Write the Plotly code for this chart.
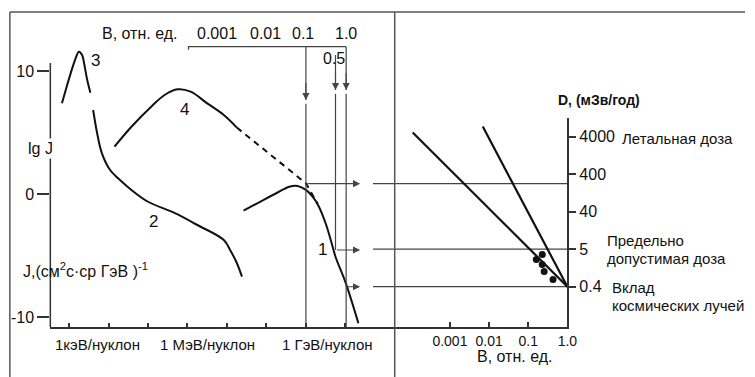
import plotly.graph_objects as go

W, H = 755, 377
FONT = "Liberation Sans, Arial, sans-serif"
INK = "#111111"
GREY = "#444444"

# ---------------- Left panel: lg E (eV/nucleon) vs lg J ----------------
c3_lgE = [2.82, 2.93, 3.04, 3.15, 3.25, 3.33, 3.38, 3.46, 3.54]
c3_lgJ = [7.37, 8.62, 9.81, 10.89, 11.57, 11.30, 10.63, 9.27, 8.24]

c2_lgE = [3.61, 3.71, 3.83, 4.04, 4.29, 4.58, 5.0, 5.67, 6.25, 6.92, 7.08, 7.25, 7.38]
c2_lgJ = [6.83, 4.96, 3.33, 1.95, 1.14, 0.33, -0.63, -1.54, -2.52, -3.74, -4.55, -5.61, -6.72]

c4_lgE = [4.15, 4.58, 5.08, 5.42, 5.75, 6.08, 6.5, 6.92, 7.25]
c4_lgJ = [3.85, 5.47, 7.10, 8.05, 8.51, 8.32, 7.37, 6.42, 5.40]
c4x_lgE = [7.25, 9.0, 9.3]          # dashed extrapolation of curve 4
c4x_lgJ = [5.40, 0.87, -0.8]

c1_lgE = [7.42, 7.92, 8.25, 8.58, 8.79, 9.0, 9.17, 9.33, 9.5, 9.63, 9.75, 10.0, 10.33]
c1_lgJ = [-1.36, -0.49, 0.06, 0.59, 0.65, 0.33, -0.22, -1.03, -2.38, -3.74, -5.10, -7.15, -10.51]

curve_labels = ["1", "2", "3", "4"]
curve_label_lgE = [9.42, 5.13, 3.67, 5.93]
curve_label_lgJ = [-4.5, -2.25, 10.89, 6.83]

lgE_ticks = [3, 4, 5, 6, 7, 8, 9, 10]
lgJ_ticks = [-10, 0, 10]
lgJ_ticktext = ["-10", "0", "10"]
energy_labels = ["1кэВ/нуклон", "1 МэВ/нуклон", "1 ГэВ/нуклон"]

# rigidity cut-off lines (B, rel. units)
cut_labels = ["0.1", "0.5", "1.0"]
cut_lgE = [9.0, 9.75, 10.02]
cut_top_lgJ = [11.98, 11.3, 11.98]
cut_tip_lgJ = [7.64, 8.45, 8.45]
cut_bottom_lgJ = [-10.81, -4.55, -10.81]
conn_lgJ = [0.84, -4.55, -7.54]

bscale_labels = ["0.001", "0.01", "0.1", "1.0"]
bscale_lgE = [6.75, 7.975, 8.925, 10.025]
bracket_lgE = [6.025, 10.02]
bracket_lgJ = 11.98

# ---------------- Right panel: B vs dose D ----------------
B_ticks = [0.001, 0.01, 0.1, 1.0]
B_ticktext = ["0.001", "0.01", "0.1", "1.0"]
D_labels = ["0.4", "5", "40", "400", "4000"]
D_levels = [0, 1, 2, 3, 4]
conn_level = [2.75, 1.0, 0.0]

line5_B = [1.12e-4, 1.0]
line5_lvl = [4.11, 0.0]
line6_B = [0.0069, 1.0]
line6_lvl = [4.27, 0.0]
pts7_B = [0.161, 0.228, 0.228, 0.255, 0.43]
pts7_lvl = [0.725, 0.859, 0.592, 0.405, 0.192]

right_labels = ["5", "6", "7"]
right_label_B = [10 ** -2.79, 10 ** -2.02, 10 ** -1.18]
right_label_lvl = [3.29, 3.29, 0.43]

# ---------------- axes geometry ----------------
X1_RANGE = [2.525, 11.25]
Y1_RANGE = [-10.813, 14.797]
X2_RANGE = [-4.965, 0.0]
Y2_RANGE = [-1.075, 4.499]


def P(px, py):
    return px / W, 1 - py / H


fig = go.Figure()

line_style = dict(color=INK, width=2)
fig.add_trace(go.Scatter(x=c3_lgE, y=c3_lgJ, mode="lines", line=dict(line_style, shape="spline"), xaxis="x", yaxis="y"))
fig.add_trace(go.Scatter(x=c2_lgE, y=c2_lgJ, mode="lines", line=dict(line_style, shape="spline"), xaxis="x", yaxis="y"))
fig.add_trace(go.Scatter(x=c4_lgE, y=c4_lgJ, mode="lines", line=dict(line_style, shape="spline"), xaxis="x", yaxis="y"))
fig.add_trace(go.Scatter(x=c4x_lgE, y=c4x_lgJ, mode="lines", line=dict(color=INK, width=2, dash="6px,5px"), xaxis="x", yaxis="y"))
fig.add_trace(go.Scatter(x=c1_lgE, y=c1_lgJ, mode="lines", line=dict(line_style, shape="spline"), xaxis="x", yaxis="y"))

# cut-off verticals (gap after arrowhead)
vx, vy = [], []
for e, top, tip, bot in zip(cut_lgE, cut_top_lgJ, cut_tip_lgJ, cut_bottom_lgJ):
    vx += [e, e, None, e, e, None]
    vy += [top, tip, None, tip - 0.3, bot, None]
fig.add_trace(go.Scatter(x=vx, y=vy, mode="lines", line=dict(color=GREY, width=1.2), xaxis="x", yaxis="y"))

# bracket of the B scale
fig.add_trace(go.Scatter(x=[bracket_lgE[0], bracket_lgE[0], bracket_lgE[1]],
                         y=[bracket_lgJ - 0.25, bracket_lgJ, bracket_lgJ],
                         mode="lines", line=dict(color=GREY, width=1.2), xaxis="x", yaxis="y"))

# right panel: connector continuations
hx, hy = [], []
for lv in conn_level:
    hx += [10 ** X2_RANGE[0], 1.0, None]
    hy += [lv, lv, None]
fig.add_trace(go.Scatter(x=hx, y=hy, mode="lines", line=dict(color=GREY, width=1.2), xaxis="x2", yaxis="y2"))
fig.add_trace(go.Scatter(x=line5_B, y=line5_lvl, mode="lines", line=dict(color=INK, width=2.2), xaxis="x2", yaxis="y2"))
fig.add_trace(go.Scatter(x=line6_B, y=line6_lvl, mode="lines", line=dict(color=INK, width=2.2), xaxis="x2", yaxis="y2"))
fig.add_trace(go.Scatter(x=pts7_B, y=pts7_lvl, mode="markers", marker=dict(color=INK, size=7), xaxis="x2", yaxis="y2"))

ann = []
# arrowheads on the verticals
for e, tip in zip(cut_lgE, cut_tip_lgJ):
    ann.append(dict(x=e, y=tip, ax=e, ay=tip + 1.5, xref="x", yref="y", axref="x", ayref="y",
                    text="", showarrow=True, arrowhead=2, arrowsize=1.3, arrowwidth=1.1, arrowcolor=GREY, standoff=0))
# horizontal connector arrows
for e, lj in zip(cut_lgE, conn_lgJ):
    ann.append(dict(x=10.375, y=lj, ax=e, ay=lj, xref="x", yref="y", axref="x", ayref="y",
                    text="", showarrow=True, arrowhead=2, arrowsize=1.3, arrowwidth=1.1, arrowcolor=GREY, standoff=0))


def label(x, y, text, size=16, xref="paper", yref="paper", xanchor="center", **kw):
    d = dict(x=x, y=y, xref=xref, yref=yref, text=text, showarrow=False, xanchor=xanchor,
             yanchor="middle", font=dict(size=size, color=INK, family=FONT))
    d.update(kw)
    ann.append(d)


# curve labels
for t, e, j in zip(curve_labels, curve_label_lgE, curve_label_lgJ):
    label(e, j, t, 17, "x", "y")
for t, b, lv in zip(right_labels, right_label_B, right_label_lvl):
    label(b, lv, t, 17, "x2", "y2")

# B scale on top
label(P(141.5, 0)[0], bracket_lgJ + 1.1, "B, отн. ед.", 16, "paper", "y")
for t, e in zip(bscale_labels, bscale_lgE):
    label(e, bracket_lgJ + 1.1, t, 16, "x", "y")
label(cut_lgE[1] - 0.05, 11.0, cut_labels[1], 16, "x", "y")

# energy labels
for t, px in zip(energy_labels, [99, 210, 332]):
    x, y = P(px, 344)
    label(x, y, t, 15)

x, y = P(41.5, 148)
label(x, y, "lg J", 16, bgcolor="white")
x, y = P(21, 270)
label(x, y, "J,(см<sup>2</sup>с·ср ГэВ )<sup>-1</sup>", 16, xanchor="left")

# right panel texts
txts = [
    (607, 100, "<b>D, (мЗв/год)</b>", "center", 14),
    (628, 138, "Летальная доза", "left", 15),
    (613, 240, "Предельно", "left", 15),
    (613, 258, "допустимая доза", "left", 15),
    (618, 287, "Вклад", "left", 15),
    (618, 305, "космических лучей", "left", 15),
    (521.7, 356, "B, отн. ед.", "center", 16),
]
for px, py, t, anc, sz in txts:
    x, y = P(px, py)
    label(x, y, t, sz, xanchor=anc)

shapes = []
frame = dict(type="line", xref="paper", yref="paper", line=dict(color="#555555", width=1.5))
tx, ty = P(10, 12)
shapes.append(dict(frame, x0=tx, x1=1.0, y0=ty, y1=ty))
shapes.append(dict(frame, x0=tx, x1=tx, y0=0, y1=ty))
dx, _ = P(400, 0)
shapes.append(dict(frame, x0=dx, x1=dx, y0=0, y1=ty))
# left y axis line
shapes.append(dict(type="line", xref="paper", yref="y", x0=51 / W, x1=51 / W, y0=Y1_RANGE[0], y1=10.65,
                   line=dict(color="#333333", width=1.5)))

axis_common = dict(showgrid=False, zeroline=False, linecolor="#333333", linewidth=1.5,
                   tickcolor="#333333", tickwidth=1.5, tickfont=dict(family=FONT, size=16, color=INK))

fig.update_layout(
    width=W, height=H, margin=dict(l=0, r=0, t=0, b=0),
    paper_bgcolor="white", plot_bgcolor="rgba(0,0,0,0)",
    showlegend=False, font=dict(family=FONT, color=INK),
    xaxis=dict(axis_common, domain=[51 / W, 400 / W], range=X1_RANGE, anchor="y", showline=True,
               ticks="inside", ticklen=4, tickvals=lgE_ticks, showticklabels=False),
    yaxis=dict(axis_common, domain=[1 - 327 / H, 1 - 12 / H], range=Y1_RANGE, anchor="x", showline=False,
               ticks="outside", ticklen=12, tickvals=lgJ_ticks, ticktext=lgJ_ticktext),
    xaxis2=dict(axis_common, domain=[378 / W, 575 / W], type="log", range=X2_RANGE, anchor="y2", showline=True,
                ticks="inside", ticklen=5, tickvals=B_ticks, ticktext=B_ticktext,
                tickfont=dict(family=FONT, size=14, color=INK)),
    yaxis2=dict(axis_common, domain=[1 - 327 / H, 1 - 118 / H], range=Y2_RANGE, anchor="x2", side="right",
                showline=True, ticks="outside", ticklen=7, tickvals=D_levels, ticktext=D_labels),
    yaxis3=dict(showgrid=False, zeroline=False, overlaying="y2", anchor="x2", side="right", range=Y2_RANGE,
                ticks="inside", ticklen=7, tickvals=D_levels, showticklabels=False, tickcolor="#333333",
                tickwidth=1.5, showline=False),
    annotations=ann, shapes=shapes,
)

fig.write_html("out.html", config={"displayModeBar": False},
               post_script="document.body.style.margin='0';document.body.style.overflow='hidden';")
